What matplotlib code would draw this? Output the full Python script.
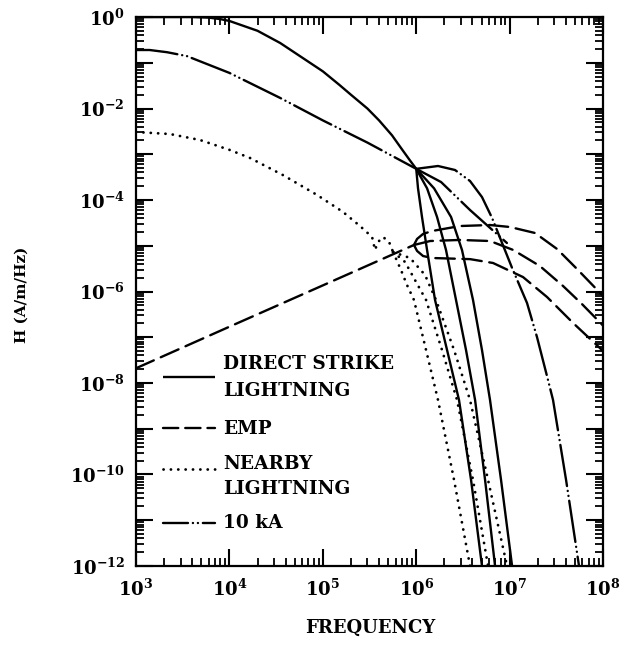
import numpy as np
import matplotlib
matplotlib.use("Agg")
import matplotlib.pyplot as plt
from matplotlib.ticker import FixedLocator, FuncFormatter, NullFormatter
from matplotlib.lines import Line2D

plt.rcParams['font.family'] = ['DejaVu Serif']
plt.rcParams['font.weight'] = 'bold'
plt.rcParams['mathtext.fontset'] = 'dejavuserif'
plt.rcParams['lines.scale_dashes'] = False

# ---- Direct strike lightning (solid) ----
direct_f = [1e3, 4e3, 6e3, 8e3, 1e4, 2e4, 3.5e4, 6e4, 1e5, 1.5e5, 2e5, 3e5,
            4e5, 5.5e5, 7e5, 8.5e5, 1e6]
direct_h = [1.0, 1.0, 0.97, 0.9, 0.82, 0.5, 0.27, 0.13, 0.065, 0.033, 0.02,
            0.01, 5.5e-3, 2.6e-3, 1.3e-3, 7.5e-4, 4.8e-4]

direct1_f = [1.0e6, 1.045e6, 1.153e6, 1.306e6, 1.59e6, 2.138e6, 2.871e6, 3.864e6, 5.058e6]
direct2_f = [1.0e6, 1.306e6, 1.671e6, 2.084e6, 2.667e6, 3.412e6, 4.266e6, 5.458e6, 6.982e6]
direct3_f = [1.0e6, 1.552e6, 2.360e6, 3.090e6, 4.055e6, 5.058e6, 6.166e6, 8.091e6, 1.062e7]
direct_tail_h = [4.8e-4, 1.8e-4, 4.25e-5, 8.07e-6, 6.52e-7, 5.26e-8, 4.25e-9, 7.59e-11, 1e-12]

# ---- EMP (dashed) ----
emp_rise_f = [1e3, 1e4, 1e5, 9.46e5]
emp_rise_h = [2.1e-8, 1.7e-7, 1.36e-6, 1.04e-5]

emp_top_f = [9.46e5, 1.021e6, 1.183e6, 1.476e6, 2.94e6, 6.17e6, 1.009e7, 1.87e7,
             3.22e7, 5.27e7, 1e8]
emp_top_h = [1.04e-5, 1.41e-5, 1.81e-5, 2.10e-5, 2.70e-5, 2.84e-5, 2.57e-5, 1.90e-5,
             8.5e-6, 3.10e-6, 8.0e-7]

emp_mid_f = [9.46e5, 1.41e6, 2.94e6, 6.17e6, 1.09e7, 2.11e7, 3.73e7, 5.96e7, 1e8]
emp_mid_h = [1.04e-5, 1.27e-5, 1.34e-5, 1.27e-5, 8.1e-6, 3.6e-6, 1.32e-6, 5.3e-7, 1.8e-7]

emp_low_f = [9.46e5, 1.021e6, 1.183e6, 1.476e6, 3.77e6, 6.64e6, 1.39e7, 2.51e7,
             4.78e7, 1e8]
emp_low_h = [1.04e-5, 7.7e-6, 5.97e-6, 5.4e-6, 5.1e-6, 4.2e-6, 2.07e-6, 7.6e-7,
             2.05e-7, 5.0e-8]

# ---- Nearby lightning (dotted) ----
nearby_f = [1e3, 2.31e3, 4.84e3, 1.01e4, 1.66e4, 3.75e4, 8.67e4, 1.64e5, 2.5e5,
            3.37e5, 3.62e5, 3.9e5, 4.42e5, 5.12e5, 5.65e5]
nearby_h = [3.06e-3, 2.77e-3, 2.05e-3, 1.24e-3, 8.3e-4, 3.5e-4, 1.29e-4, 5.5e-5,
            2.7e-5, 1.55e-5, 8.1e-6, 1.21e-5, 1.55e-5, 1.21e-5, 7.3e-6]

nearby1_f = [5.65e5, 6.87e5, 7.96e5, 9.46e5, 1.274e6, 1.711e6, 2.541e6, 3.767e6]
nearby1_h = [7.3e-6, 2.95e-6, 1.39e-6, 6.52e-7, 5.26e-8, 4.25e-9, 7.59e-11, 1e-12]
nearby2_f = [5.65e5, 7.59e5, 9.70e5, 1.274e6, 1.888e6, 2.735e6, 4.055e6, 5.875e6]
nearby2_h = [7.3e-6, 4.42e-6, 1.78e-6, 6.52e-7, 5.26e-8, 4.25e-9, 7.59e-11, 1e-12]
nearby3_f = [5.65e5, 8.59e5, 1.242e6, 1.629e6, 2.541e6, 3.767e6, 5.875e6, 9.38e6]
nearby3_h = [7.3e-6, 5.4e-6, 2.30e-6, 6.52e-7, 5.26e-8, 4.25e-9, 7.59e-11, 1e-12]

# ---- 10 kA (dash-dot-dot) ----
ka_f = [1e3, 1.4e3, 2.15e3, 3.5e3, 1e4, 3.5e4, 1e5, 3e5, 1e6]
ka_h = [0.19, 0.19, 0.17, 0.14, 0.06, 0.017, 5.5e-3, 1.8e-3, 4.8e-4]

ka_hump_f = [1.0e6, 1.711e6, 2.60e6, 3.767e6, 5.058e6, 6.49e6, 8.30e6, 1.062e7,
             1.535e7, 1.963e7, 2.576e7, 2.915e7, 4.02e7, 5.53e7]
ka_hump_h = [4.8e-4, 5.54e-4, 4.53e-4, 2.60e-4, 1.16e-4, 4.04e-5, 1.15e-5, 3.27e-6,
             5.61e-7, 1.01e-7, 1.16e-8, 4.25e-9, 7.59e-11, 1e-12]

ka_diag_f = [1.0e6, 1.845e6, 3.767e6, 9.35e6]
ka_diag_h = [4.8e-4, 2.47e-4, 6.04e-5, 1.15e-5]

x_decades = [1e3, 1e4, 1e5, 1e6, 1e7, 1e8]
y_decades = [10.0 ** k for k in range(-12, 1)]

legend_labels = [["DIRECT STRIKE", "LIGHTNING"], ["EMP"], ["NEARBY", "LIGHTNING"], ["10 kA"]]

# line styles
LW = 1.7
SOLID = '-'
DASHED = (0, (14, 5.5))
DOTTED = (0, (0.1, 5.2))
DASHDOT2 = (0, (30, 3.5, 0.1, 3.5, 0.1, 3.5))
common = dict(color='black', lw=LW, dash_capstyle='round', solid_capstyle='butt')
dot_kw = dict(common, lw=2.0)

fig = plt.figure(figsize=(6.44, 6.47), dpi=100)
ax = fig.add_axes([0.2112, 0.1252, 0.7252, 0.8485])
ax.set_xscale('log')
ax.set_yscale('log')
ax.set_xlim(1e3, 1e8)
ax.set_ylim(1e-12, 1.0)

# direct strike
ax.plot(direct_f, direct_h, ls=SOLID, **common)
for fx in (direct1_f, direct2_f, direct3_f):
    ax.plot(fx, direct_tail_h, ls=SOLID, **common)

# EMP
ax.plot(emp_rise_f, emp_rise_h, ls=DASHED, **common)
ax.plot(emp_top_f, emp_top_h, ls=DASHED, **common)
ax.plot(emp_mid_f, emp_mid_h, ls=DASHED, **common)
ax.plot(emp_low_f, emp_low_h, ls=DASHED, **common)

# nearby lightning
ax.plot(nearby_f, nearby_h, ls=DOTTED, **dot_kw)
ax.plot(nearby1_f, nearby1_h, ls=DOTTED, **dot_kw)
ax.plot(nearby2_f, nearby2_h, ls=DOTTED, **dot_kw)
ax.plot(nearby3_f, nearby3_h, ls=DOTTED, **dot_kw)

# 10 kA
ax.plot(ka_f, ka_h, ls=DASHDOT2, **common)
ax.plot(ka_hump_f, ka_hump_h, ls=DASHDOT2, **common)
ax.plot(ka_diag_f, ka_diag_h, ls=DASHDOT2, **common)

# frame and ticks
for sp in ax.spines.values():
    sp.set_linewidth(1.6)

ax.xaxis.set_major_locator(FixedLocator(x_decades))
ax.yaxis.set_major_locator(FixedLocator(y_decades))
x_minor = [m * d for d in x_decades[:-1] for m in range(2, 10)]
y_minor = [m * d for d in y_decades[:-1] for m in range(2, 10)]
ax.xaxis.set_minor_locator(FixedLocator(x_minor))
ax.yaxis.set_minor_locator(FixedLocator(y_minor))
ax.xaxis.set_minor_formatter(NullFormatter())
ax.yaxis.set_minor_formatter(NullFormatter())


def xfmt(v, pos):
    e = int(round(np.log10(v)))
    return r'$\mathbf{10^{%d}}$' % e


def yfmt(v, pos):
    e = int(round(np.log10(v)))
    if e % 2:
        return ''
    return r'$\mathbf{10^{%d}}$' % e


ax.xaxis.set_major_formatter(FuncFormatter(xfmt))
ax.yaxis.set_major_formatter(FuncFormatter(yfmt))
ax.tick_params(which='both', direction='in', top=True, right=True, colors='black')
ax.tick_params(which='major', length=12, width=1.5, labelsize=13)
ax.tick_params(which='minor', length=6, width=1.3)
ax.tick_params(axis='x', which='major', pad=9)
ax.tick_params(axis='y', which='major', pad=8)

# legend drawn by hand inside the plot
handle_y = [0.344, 0.251, 0.177, 0.078]
handle_styles = [SOLID, (0, (11, 5)), DOTTED, (12, (30, 3.5, 0.1, 3.5, 0.1, 3.5))]
for yy, st in zip(handle_y, handle_styles):
    kw = dot_kw if st is DOTTED else common
    ax.add_line(Line2D([0.058, 0.169], [yy, yy], transform=ax.transAxes,
                       ls=st, **kw))

text_rows = [(0.368, legend_labels[0][0]), (0.319, legend_labels[0][1]),
             (0.250, legend_labels[1][0]),
             (0.186, legend_labels[2][0]), (0.140, legend_labels[2][1]),
             (0.078, legend_labels[3][0])]
for yy, s in text_rows:
    ax.text(0.186, yy, s, transform=ax.transAxes, fontsize=13.3,
            fontweight='bold', va='center', ha='left')

fig.text(0.034, 0.544, 'H (A/m/Hz)', rotation=90, ha='center', va='center',
         fontsize=11, fontweight='bold')
fig.text(0.5745, 0.029, 'FREQUENCY', ha='center', va='center',
         fontsize=13, fontweight='bold')

fig.savefig('out.png', dpi=100)
